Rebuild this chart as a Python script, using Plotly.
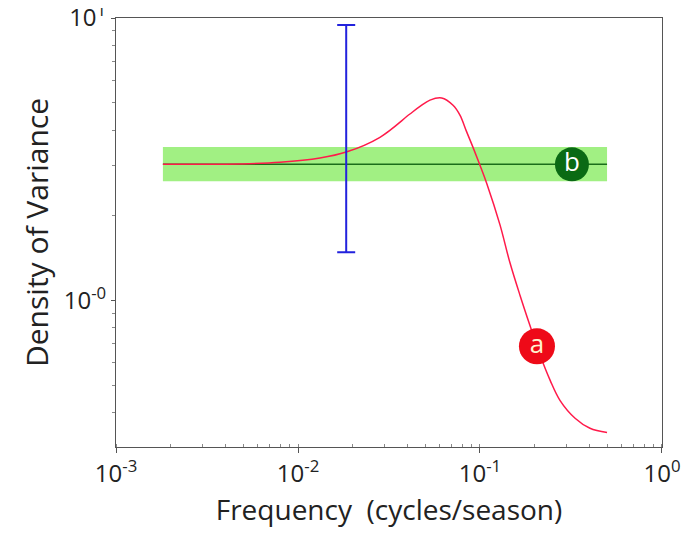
import plotly.graph_objects as go

# Data
freq_a = [0.00181, 0.0029, 0.0048, 0.00796, 0.0132, 0.0184, 0.0282, 0.0412, 0.0468, 0.0531,
          0.0616, 0.0711, 0.0776, 0.0845, 0.0919, 0.100, 0.1088, 0.1288, 0.146, 0.166, 0.188,
          0.214, 0.243, 0.275, 0.333, 0.402, 0.499]
dens_a = [3.03, 3.03, 3.04, 3.08, 3.19, 3.35, 3.78, 4.57, 4.86, 5.12,
          5.21, 4.91, 4.53, 3.95, 3.46, 3.01, 2.60, 1.85, 1.36, 1.04, 0.815,
          0.638, 0.520, 0.442, 0.382, 0.352, 0.340]
freq_b = [0.00181, 0.499]
dens_b = [3.03, 3.03]
band_lo = [2.64, 2.64]
band_hi = [3.49, 3.49]
err_x = [0.0184]
err_center = [3.03]
err_hi = [9.44]
err_lo = [1.48]
label_a = {"x": 0.2056, "y": 0.687, "text": "a"}
label_b = {"x": 0.320, "y": 3.03, "text": "b"}
xtick_vals = [0.001, 0.01, 0.1, 1]
xtick_text = ["10<sup>-3</sup>", "10<sup>-2</sup>", "10<sup>-1</sup>", "10<sup>0</sup>"]
ytick_vals = [1, 10]
ytick_text = ["10<sup>-0</sup>", "10<sup>1</sup>"]

FONT = "Open Sans"

fig = go.Figure()
# green band
fig.add_trace(go.Scatter(x=freq_b, y=band_hi, mode="lines", line=dict(width=0),
                         showlegend=False, hoverinfo="skip"))
fig.add_trace(go.Scatter(x=freq_b, y=band_lo, mode="lines", line=dict(width=0),
                         fill="tonexty", fillcolor="rgba(130,235,90,0.75)",
                         showlegend=False, hoverinfo="skip"))
# green line
fig.add_trace(go.Scatter(x=freq_b, y=dens_b, mode="lines",
                         line=dict(color="#1a6e1a", width=1.5), showlegend=False))
# red curve
fig.add_trace(go.Scatter(x=freq_a, y=dens_a, mode="lines", line_shape="spline",
                         line=dict(color="#ff1a4a", width=1.5), showlegend=False))
# error bar
fig.add_trace(go.Scatter(
    x=err_x, y=err_center, mode="markers", marker=dict(size=1, opacity=0),
    error_y=dict(type="data", symmetric=False,
                 array=[h - c for h, c in zip(err_hi, err_center)],
                 arrayminus=[c - l for l, c in zip(err_lo, err_center)],
                 color="#2222dd", thickness=2, width=9),
    showlegend=False))
# labels
fig.add_trace(go.Scatter(x=[label_b["x"]], y=[label_b["y"]], mode="markers+text",
                         marker=dict(size=34, color="#0a6a14"),
                         text=[label_b["text"]], textposition="middle center",
                         textfont=dict(color="white", size=26, family=FONT),
                         showlegend=False))
fig.add_trace(go.Scatter(x=[label_a["x"]], y=[label_a["y"]], mode="markers+text",
                         marker=dict(size=36, color="#ee0a18"),
                         text=[label_a["text"]], textposition="middle center",
                         textfont=dict(color="#fff3d0", size=26, family=FONT),
                         showlegend=False))

fig.update_layout(
    width=689, height=543,
    margin=dict(l=108, r=35, t=10, b=104),
    paper_bgcolor="white", plot_bgcolor="white",
    font=dict(family=FONT, size=24, color="#222"),
)
fig.update_xaxes(type="log", range=[-3.0001, 0.0001], tickvals=xtick_vals, ticktext=xtick_text,
                 showline=True, linecolor="#555", linewidth=1, mirror=True,
                 ticks="outside", ticklen=5, tickcolor="#555", showgrid=False,
                 minor=dict(dtick="D1", ticks="inside", ticklen=3, tickcolor="#888"),
                 title=dict(text="Frequency  (cycles/season)", font=dict(size=28), standoff=12),
                 tickfont=dict(size=24), automargin=False, ticklabeloverflow="allow")
fig.update_yaxes(type="log", range=[-0.52, 1.0001], tickvals=ytick_vals, ticktext=ytick_text,
                 showline=True, linecolor="#555", linewidth=1, mirror=True,
                 ticks="outside", ticklen=4, tickcolor="#555", showgrid=False,
                 minor=dict(dtick="D1", ticks="outside", ticklen=3, tickcolor="#888"),
                 title=dict(text="Density of Variance", font=dict(size=30), standoff=6),
                 tickfont=dict(size=24), automargin=False, ticklabeloverflow="allow")

fig.write_html("out.html")
